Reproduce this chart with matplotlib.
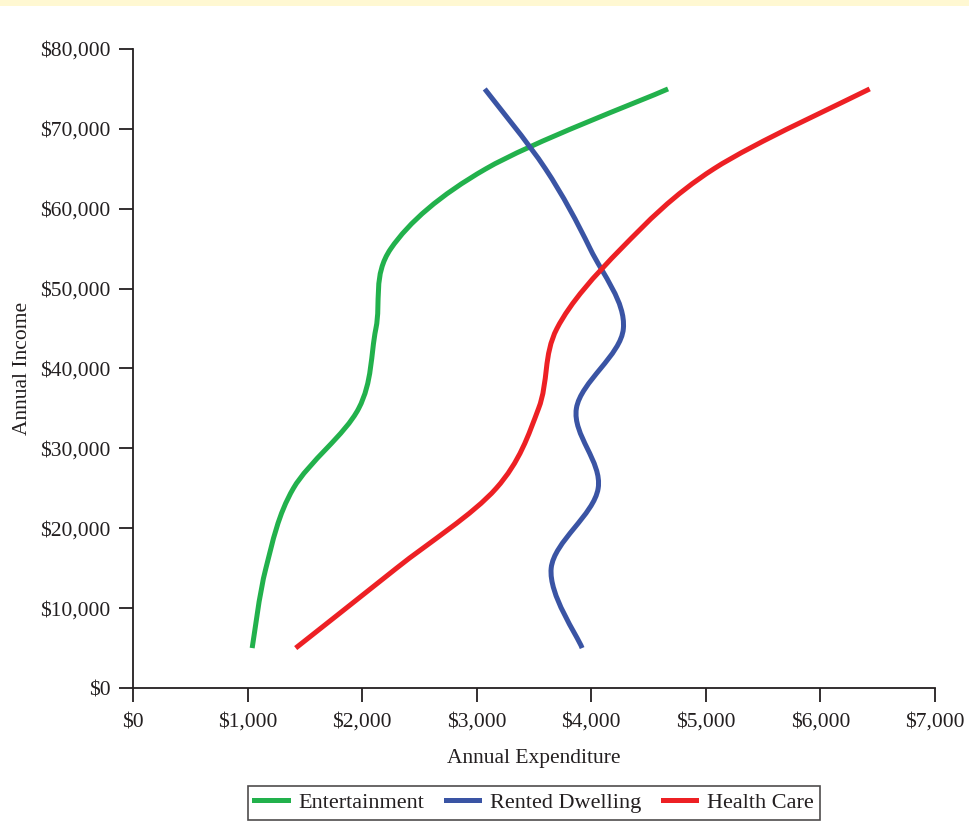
import matplotlib
matplotlib.use("Agg")
import matplotlib.pyplot as plt
import numpy as np
from matplotlib.path import Path
from matplotlib.patches import PathPatch, Rectangle
from matplotlib.lines import Line2D
from matplotlib.ticker import FuncFormatter

# annual income levels (y) and annual expenditure per category (x)
income = [5000, 15000, 25000, 35000, 45000, 55000, 65000, 75000]
entertainment = [1040, 1160, 1400, 1970, 2120, 2250, 3080, 4670]
rented_dwelling = [3920, 3650, 4060, 3870, 4280, 3990, 3600, 3070]
health_care = [1420, 2300, 3170, 3540, 3700, 4260, 5070, 6430]

series_names = ["Entertainment", "Rented Dwelling", "Health Care"]
series_colors = ["#22b14c", "#3a54a4", "#ed2024"]

x_ticks = [0, 1000, 2000, 3000, 4000, 5000, 6000, 7000]
y_ticks = [0, 10000, 20000, 30000, 40000, 50000, 60000, 70000, 80000]


def smooth_path(xs, ys):
    # smoothed line like a spreadsheet chart: cubic bezier segments (catmull-rom)
    pts = np.column_stack([xs, ys]).astype(float)
    n = len(pts)
    verts = [pts[0]]
    codes = [Path.MOVETO]
    for i in range(n - 1):
        p0 = pts[max(i - 1, 0)]
        p1 = pts[i]
        p2 = pts[i + 1]
        p3 = pts[min(i + 2, n - 1)]
        c1 = p1 + (p2 - p0) / 6.0
        c2 = p2 - (p3 - p1) / 6.0
        verts += [c1, c2, p2]
        codes += [Path.CURVE4] * 3
    return Path(verts, codes)


plt.rcParams["font.family"] = ["Liberation Serif", "DejaVu Serif"]
fs = 15.5
ink = "#231f20"

fig = plt.figure(figsize=(9.70, 8.22), dpi=100)
fig.patches.append(Rectangle((0, 1 - 6 / 822), 1, 6 / 822, transform=fig.transFigure,
                             facecolor="#fff8d2", edgecolor="none"))
ax = fig.add_axes([133 / 970, 1 - 688 / 822, (935 - 133) / 970, (688 - 49) / 822])

handles = []
for xs, name, col in zip([entertainment, rented_dwelling, health_care], series_names, series_colors):
    patch = PathPatch(smooth_path(xs, income), facecolor="none", edgecolor=col,
                      lw=3.6, capstyle="butt", joinstyle="round")
    ax.add_patch(patch)
    handles.append(Line2D([], [], color=col, lw=3.6, label=name))

ax.set_xlim(0, 7000)
ax.set_ylim(0, 80000)
ax.set_xticks(x_ticks)
ax.set_yticks(y_ticks)
money = FuncFormatter(lambda v, p: "${:,.0f}".format(v))
ax.xaxis.set_major_formatter(money)
ax.yaxis.set_major_formatter(money)

for s in ["top", "right"]:
    ax.spines[s].set_visible(False)
for s in ["left", "bottom"]:
    ax.spines[s].set_color(ink)
    ax.spines[s].set_linewidth(1.3)
ax.tick_params(direction="out", length=10, width=1.3, color=ink,
               labelsize=fs, labelcolor=ink)
ax.tick_params(axis="x", pad=8)
ax.tick_params(axis="y", pad=6)

ax.set_xlabel("Annual Expenditure", fontsize=fs, color=ink, labelpad=12)
ax.set_ylabel("Annual Income", fontsize=fs, color=ink, labelpad=6)

leg = ax.legend(handles=handles, loc="upper center", bbox_to_anchor=(0.5, -0.153),
                ncol=3, frameon=True, fancybox=False, fontsize=16,
                handlelength=1.5, columnspacing=0.95, handletextpad=0.5,
                borderpad=0.3, borderaxespad=0)
leg.get_frame().set_edgecolor(ink)
leg.get_frame().set_linewidth(1.2)
for t in leg.get_texts():
    t.set_color(ink)

fig.savefig("out.png", dpi=100)
